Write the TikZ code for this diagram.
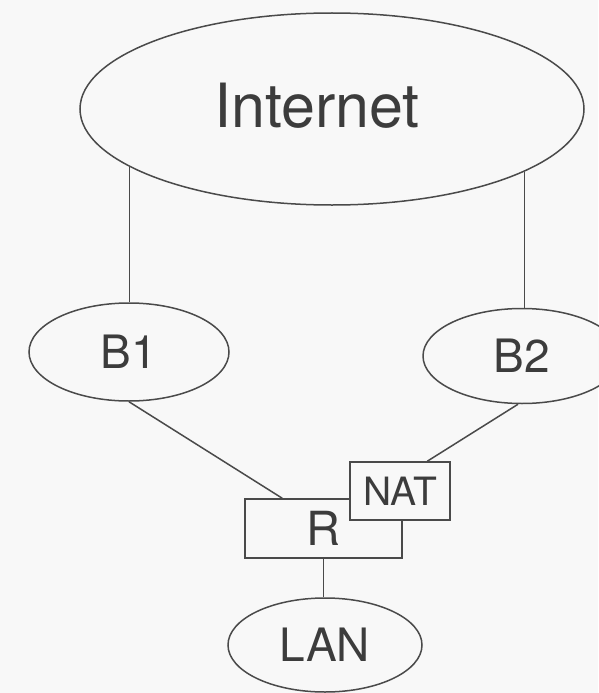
\documentclass[tikz,border=0pt]{standalone}
\usepackage{fontspec}
\setmainfont{TeX Gyre Heros}
\usetikzlibrary{shapes.geometric,calc}

\definecolor{inkline}{HTML}{4A4A4A}
\definecolor{inktext}{HTML}{3C3C3C}
\definecolor{paper}{HTML}{F8F8F8}

\tikzset{
  cloud/.style={ellipse, draw=inkline, line width=1.5pt, inner sep=0pt,
                text=inktext, fill=paper},
  boxnode/.style={rectangle, draw=inkline, line width=1.5pt, inner sep=0pt,
                  text=inktext, fill=paper},
  link/.style={draw=inkline, line width=1.5pt},
  lbl/.style={text=inktext, inner sep=0pt}
}

\begin{document}
\begin{tikzpicture}[x=1pt, y=-1pt]
  % page
  \fill[paper] (0,0) rectangle (598,693);
  \useasboundingbox (0,0) rectangle (598,693);

  % networks
  \node[cloud, minimum width=504pt, minimum height=192pt] (inet) at (332,109) {};
  \node[lbl, font=\fontsize{61}{61}\selectfont] (inettext) at (317,105.5) {Internet};

  \node[cloud, minimum width=200pt, minimum height=98pt,
        font=\fontsize{46}{46}\selectfont] (b1) at (129,352) {B1};
  \node[cloud, minimum width=198pt, minimum height=95pt,
        font=\fontsize{46}{46}\selectfont] (b2) at (522,356) {B2};
  \node[cloud, minimum width=194pt, minimum height=94pt,
        font=\fontsize{46}{46}\selectfont] (lan) at (325,645) {LAN};

  % router with NAT box on top
  \node[boxnode, minimum width=157pt, minimum height=59pt,
        font=\fontsize{47}{47}\selectfont] (r) at (323.5,528.5) {R};
  \node[boxnode, minimum width=100pt, minimum height=58pt,
        font=\fontsize{39}{39}\selectfont] (nat) at (400,491) {NAT};

  % links
  \draw[link] (inet.196) -- (inet.196 |- b1.north);
  \draw[link] (inet.342) -- (inet.342 |- b2.north);
  \draw[link] (b1.south) -- ([xshift=38pt]r.north west);
  \draw[link] ([xshift=-4pt]b2.south) -- ([xshift=78pt]nat.north west);
  \draw[link] (r.south) -- (r.south |- lan.north);
\end{tikzpicture}
\end{document}
